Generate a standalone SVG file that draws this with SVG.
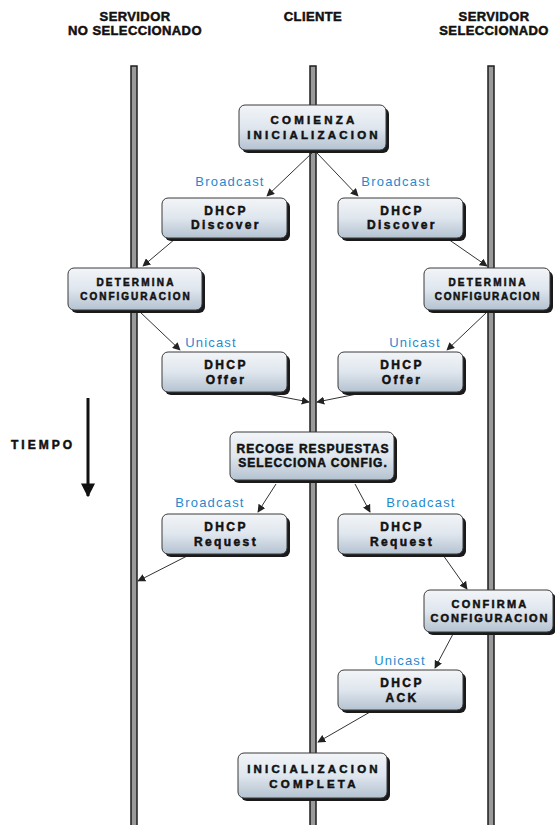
<svg xmlns="http://www.w3.org/2000/svg" width="555" height="825" viewBox="0 0 555 825">
  <defs>
    <linearGradient id="boxFill" x1="0" y1="0" x2="0" y2="1">
      <stop offset="0" stop-color="#f2f5f8"/>
      <stop offset="0.5" stop-color="#dfe6ee"/>
      <stop offset="1" stop-color="#b4c2d0"/>
    </linearGradient>
    <marker id="arrow" viewBox="0 0 10 10" refX="9" refY="5" markerWidth="8" markerHeight="8" markerUnits="userSpaceOnUse" orient="auto">
      <path d="M0,0 L10,5 L0,10 Z" fill="#222"/>
    </marker>
    <marker id="bigArrow" viewBox="0 0 10 10" refX="9" refY="5" markerWidth="14" markerHeight="14" markerUnits="userSpaceOnUse" orient="auto">
      <path d="M0,0 L10,5 L0,10 Z" fill="#111"/>
    </marker>
  </defs>
  <style>
    .lane { fill: #9a9a9a; stroke: #1e1e1e; stroke-width: 1.5; }
    .shadow { fill: #1a1a1a; }
    .box { fill: url(#boxFill); stroke: #3a3a3a; stroke-width: 1; }
    .t { font-family: "Liberation Sans", Arial, sans-serif; font-weight: 700; fill: #111; stroke: #111; stroke-width: 0.5; text-anchor: middle; }
    .head { font-size: 13px; letter-spacing: 0.4px; }
    .lbl { font-size: 11.5px; letter-spacing: 3.2px; }
    .msg { font-size: 12px; letter-spacing: 2.4px; }
    .kind { font-family: "Liberation Sans", Arial, sans-serif; font-size: 13px; fill: #1f8ad0; text-anchor: middle; letter-spacing: 1.2px; }
    .edge { stroke: #333; stroke-width: 1; fill: none; marker-end: url(#arrow); }
  </style>

  <!-- column headings -->
  <g id="headings">
    <text class="t head" x="135" y="21">SERVIDOR</text>
    <text class="t head" x="135" y="35">NO SELECCIONADO</text>
    <text class="t head" x="313" y="21">CLIENTE</text>
    <text class="t head" x="494" y="21">SERVIDOR</text>
    <text class="t head" x="494" y="35">SELECCIONADO</text>
  </g>

  <!-- lifelines -->
  <g id="lifelines">
    <rect class="lane" x="131" y="66" width="6" height="765"/>
    <rect class="lane" x="310" y="66" width="6" height="765"/>
    <rect class="lane" x="488" y="66" width="6" height="765"/>
  </g>

  <!-- time axis -->
  <g id="tiempo">
    <text class="t" x="43" y="449" font-size="12" letter-spacing="3">TIEMPO</text>
    <line x1="88" y1="398" x2="88" y2="496" stroke="#111" stroke-width="3" marker-end="url(#bigArrow)"/>
  </g>

  <!-- connectors -->
  <g id="connectors">
    <line class="edge" x1="312" y1="153" x2="267" y2="196"/>
    <line class="edge" x1="317" y1="153" x2="358" y2="196"/>
    <line class="edge" x1="175" y1="239" x2="143" y2="266"/>
    <line class="edge" x1="448" y1="239" x2="487" y2="266"/>
    <line class="edge" x1="140" y1="312" x2="180" y2="350"/>
    <line class="edge" x1="487" y1="312" x2="447" y2="350"/>
    <line class="edge" x1="262" y1="393" x2="309" y2="402"/>
    <line class="edge" x1="362" y1="393" x2="317" y2="402"/>
    <line class="edge" x1="276" y1="484" x2="258" y2="512"/>
    <line class="edge" x1="355" y1="484" x2="370" y2="512"/>
    <line class="edge" x1="189" y1="555" x2="138" y2="581"/>
    <line class="edge" x1="443" y1="555" x2="467" y2="589"/>
    <line class="edge" x1="453" y1="634" x2="435" y2="668"/>
    <line class="edge" x1="370" y1="712" x2="318" y2="742"/>
  </g>

  <!-- nodes -->
  <g id="comienza">
    <rect class="shadow" x="242" y="108" width="147" height="45" rx="6"/>
    <rect class="box" x="239" y="105" width="147" height="45" rx="6"/>
    <text class="t lbl" x="314" y="124">COMIENZA</text>
    <text class="t lbl" x="314" y="139">INICIALIZACION</text>
  </g>

  <g id="discover-left">
    <text class="kind" x="230" y="186">Broadcast</text>
    <rect class="shadow" x="165" y="201" width="125" height="40" rx="6"/>
    <rect class="box" x="162" y="198" width="125" height="40" rx="6"/>
    <text class="t msg" x="226" y="215">DHCP</text>
    <text class="t msg" x="226" y="229">Discover</text>
  </g>

  <g id="discover-right">
    <text class="kind" x="396" y="186">Broadcast</text>
    <rect class="shadow" x="341" y="201" width="125" height="40" rx="6"/>
    <rect class="box" x="338" y="198" width="125" height="40" rx="6"/>
    <text class="t msg" x="402" y="215">DHCP</text>
    <text class="t msg" x="402" y="229">Discover</text>
  </g>

  <g id="determina-left">
    <rect class="shadow" x="71" y="271" width="134" height="42" rx="6"/>
    <rect class="box" x="68" y="268" width="134" height="42" rx="6"/>
    <text class="t" x="136" y="286" font-size="10" letter-spacing="2.2">DETERMINA</text>
    <text class="t" x="136" y="300" font-size="10" letter-spacing="2">CONFIGURACION</text>
  </g>

  <g id="determina-right">
    <rect class="shadow" x="427" y="271" width="126" height="42" rx="6"/>
    <rect class="box" x="424" y="268" width="126" height="42" rx="6"/>
    <text class="t" x="488" y="286" font-size="10" letter-spacing="2.2">DETERMINA</text>
    <text class="t" x="488" y="300" font-size="10" letter-spacing="1.6">CONFIGURACION</text>
  </g>

  <g id="offer-left">
    <text class="kind" x="211" y="347">Unicast</text>
    <rect class="shadow" x="165" y="355" width="125" height="40" rx="6"/>
    <rect class="box" x="162" y="352" width="125" height="40" rx="6"/>
    <text class="t msg" x="226" y="369">DHCP</text>
    <text class="t msg" x="226" y="384">Offer</text>
  </g>

  <g id="offer-right">
    <text class="kind" x="415" y="347">Unicast</text>
    <rect class="shadow" x="341" y="355" width="125" height="40" rx="6"/>
    <rect class="box" x="338" y="352" width="125" height="40" rx="6"/>
    <text class="t msg" x="402" y="369">DHCP</text>
    <text class="t msg" x="402" y="384">Offer</text>
  </g>

  <g id="recoge">
    <rect class="shadow" x="233" y="435" width="164" height="48" rx="6"/>
    <rect class="box" x="230" y="432" width="164" height="48" rx="6"/>
    <text class="t" x="313" y="453" font-size="12" letter-spacing="1">RECOGE RESPUESTAS</text>
    <text class="t" x="313" y="467" font-size="12" letter-spacing="1">SELECCIONA CONFIG.</text>
  </g>

  <g id="request-left">
    <text class="kind" x="210" y="507">Broadcast</text>
    <rect class="shadow" x="165" y="517" width="125" height="40" rx="6"/>
    <rect class="box" x="162" y="514" width="125" height="40" rx="6"/>
    <text class="t msg" x="226" y="531">DHCP</text>
    <text class="t msg" x="226" y="546">Request</text>
  </g>

  <g id="request-right">
    <text class="kind" x="421" y="507">Broadcast</text>
    <rect class="shadow" x="341" y="517" width="125" height="40" rx="6"/>
    <rect class="box" x="338" y="514" width="125" height="40" rx="6"/>
    <text class="t msg" x="402" y="531">DHCP</text>
    <text class="t msg" x="402" y="546">Request</text>
  </g>

  <g id="confirma">
    <rect class="shadow" x="427" y="593" width="129" height="42" rx="6"/>
    <rect class="box" x="424" y="590" width="129" height="42" rx="6"/>
    <text class="t" x="490" y="608" font-size="11" letter-spacing="2.2">CONFIRMA</text>
    <text class="t" x="490" y="622" font-size="11" letter-spacing="1.9">CONFIGURACION</text>
  </g>

  <g id="ack">
    <text class="kind" x="400" y="665">Unicast</text>
    <rect class="shadow" x="341" y="673" width="125" height="40" rx="6"/>
    <rect class="box" x="338" y="670" width="125" height="40" rx="6"/>
    <text class="t msg" x="402" y="687">DHCP</text>
    <text class="t msg" x="402" y="702">ACK</text>
  </g>

  <g id="completa">
    <rect class="shadow" x="241" y="756" width="149" height="45" rx="6"/>
    <rect class="box" x="238" y="753" width="149" height="45" rx="6"/>
    <text class="t lbl" x="314" y="773">INICIALIZACION</text>
    <text class="t lbl" x="314" y="788">COMPLETA</text>
  </g>
</svg>
